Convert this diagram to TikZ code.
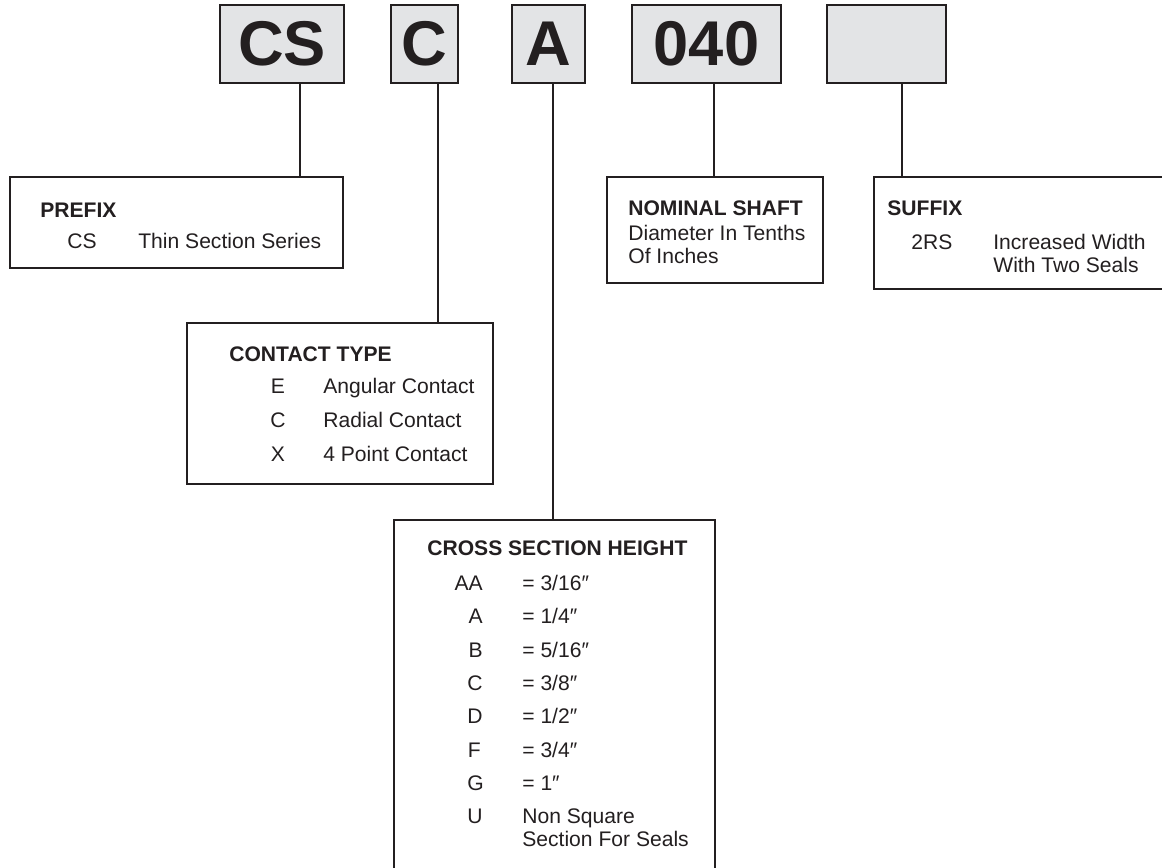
\documentclass[tikz,border=0pt]{standalone}
\usepackage{fontspec}
\setmainfont{Liberation Sans}
\usetikzlibrary{positioning}
\definecolor{ink}{RGB}{35,31,32}
\definecolor{boxgray}{RGB}{227,228,230}

\begin{document}
\begin{tikzpicture}[x=0.02cm, y=-0.02cm,
		codebox/.style={shape=rectangle, draw=ink, fill=boxgray, line width=1.2pt, inner sep=0pt, minimum height=1.56cm, text=ink, font=\fontsize{36}{40}\selectfont\bfseries},
		infobox/.style={shape=rectangle, draw=ink, line width=1.2pt, inner sep=0pt},
		head/.style={anchor=base west, inner sep=0pt, text=ink, font=\fontsize{12}{14}\selectfont\bfseries},
		txt/.style={anchor=base west, inner sep=0pt, text=ink, font=\fontsize{12}{14}\selectfont},
		keytxt/.style={anchor=base east, inner sep=0pt, text=ink, font=\fontsize{12}{14}\selectfont},
		wire/.style={draw=ink, line width=1pt}]
			\clip (0,0) rectangle (1162,867);
			% Code boxes:
			\node[codebox, minimum width=2.48cm] (cs) at (282, 44){CS};
			\node[codebox, minimum width=1.34cm] (ctype) at (424.5, 44){C};
			\node[codebox, minimum width=1.46cm] (height) at (548.5, 44){A};
			\node[codebox, minimum width=2.98cm] (shaft) at (706.5, 44){040};
			\node[codebox, minimum width=2.38cm] (sfx) at (886.5, 44){};
			% Legend boxes:
			\node[infobox, minimum width=6.66cm, minimum height=1.82cm] (prefix) at (176.5, 222.5){};
			\node[infobox, minimum width=6.12cm, minimum height=3.22cm] (contact) at (340, 403.5){};
			\node[infobox, minimum width=6.42cm, minimum height=7.6cm] (cross) at (554.5, 710){};
			\node[infobox, minimum width=4.32cm, minimum height=2.12cm] (nominal) at (715, 230){};
			\node[infobox, minimum width=6.52cm, minimum height=2.24cm] (suffix) at (1037, 233){};
			% Wires:
			\coordinate (tcs) at (300, 0);
			\coordinate (tct) at (438, 0);
			\coordinate (tht) at (553, 0);
			\coordinate (tsh) at (714, 0);
			\coordinate (tsf) at (902, 0);
			\draw[wire] (cs.south -| tcs) -- (prefix.north -| tcs);
			\draw[wire] (ctype.south -| tct) -- (contact.north -| tct);
			\draw[wire] (height.south -| tht) -- (cross.north -| tht);
			\draw[wire] (shaft.south -| tsh) -- (nominal.north -| tsh);
			\draw[wire] (sfx.south -| tsf) -- (suffix.north -| tsf);
			% Prefix:
			\node[head] (prefixhead) at (40, 217){PREFIX};
			\node[txt] (prefixkey) at (67, 248){CS};
			\node[txt] (prefixval) at (138, 248){Thin Section Series};
			% Contact type:
			\node[head] (contacthead) at (229, 361){CONTACT TYPE};
			\node[keytxt, anchor=base] (ckeye) at (278, 393){E};
			\node[keytxt, anchor=base] (ckeyc) at (278, 427){C};
			\node[keytxt, anchor=base] (ckeyx) at (278, 461){X};
			\node[txt] (cvale) at (323, 393){Angular Contact};
			\node[txt] (cvalc) at (323, 427){Radial Contact};
			\node[txt] (cvalx) at (323, 461){4 Point Contact};
			% Cross section height:
			\node[head] (crosshead) at (427, 555){CROSS SECTION HEIGHT};
			\node[keytxt] (hkeyaa) at (483, 590){AA};
			\node[keytxt] (hkeya) at (483, 623){A};
			\node[keytxt] (hkeyb) at (483, 657){B};
			\node[keytxt] (hkeyc) at (483, 690){C};
			\node[keytxt] (hkeyd) at (483, 723){D};
			\node[keytxt] (hkeyf) at (481, 757){F};
			\node[keytxt] (hkeyg) at (484, 790){G};
			\node[keytxt] (hkeyu) at (483, 823){U};
			\node[txt] (hvalaa) at (522, 590){= 3/16″};
			\node[txt] (hvala) at (522, 623){= 1/4″};
			\node[txt] (hvalb) at (522, 657){= 5/16″};
			\node[txt] (hvalc) at (522, 690){= 3/8″};
			\node[txt] (hvald) at (522, 723){= 1/2″};
			\node[txt] (hvalf) at (522, 757){= 3/4″};
			\node[txt] (hvalg) at (522, 790){= 1″};
			\node[txt] (hvalu) at (522, 823){Non Square};
			\node[txt] (hvalu2) at (522, 846){Section For Seals};
			% Nominal shaft:
			\node[head] (nominalhead) at (628, 215){NOMINAL SHAFT};
			\node[txt] (nominal1) at (628, 240){Diameter In Tenths};
			\node[txt] (nominal2) at (628, 263){Of Inches};
			% Suffix:
			\node[head] (suffixhead) at (887, 215){SUFFIX};
			\node[txt] (suffixkey) at (911, 249){2RS};
			\node[txt] (suffixval1) at (993, 249){Increased Width};
			\node[txt] (suffixval2) at (993, 272){With Two Seals};
		\end{tikzpicture}
\end{document}
